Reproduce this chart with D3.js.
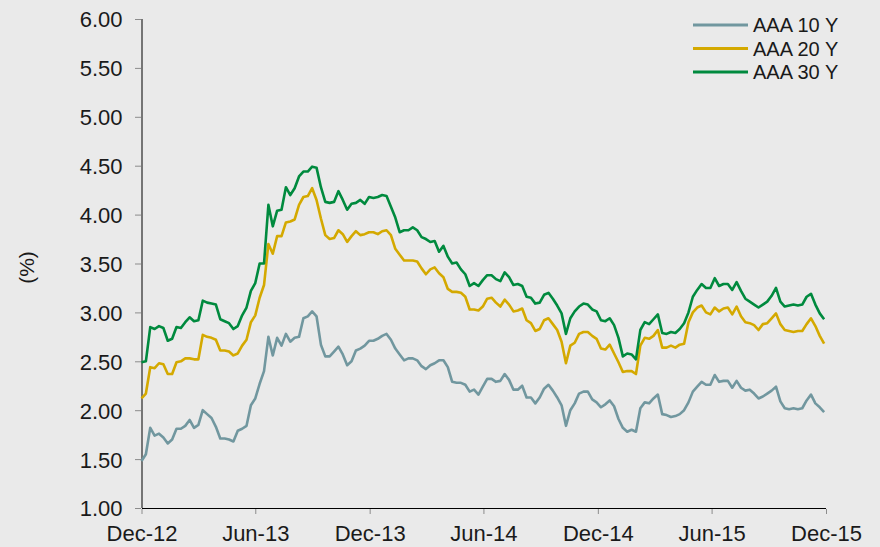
<!DOCTYPE html>
<html>
<head>
<meta charset="utf-8">
<script src="https://cdn.jsdelivr.net/npm/d3@7"></script>
<style>
  html, body { margin: 0; padding: 0; background: #eaeaea; }
  #chartArea { width: 880px; height: 547px; }
  text { font-family: "Liberation Sans", Arial, sans-serif; fill: #1a1a1a; }
</style>
</head>
<body>
<div id="chartArea"></div>
<script>
const width = 880;
const height = 547;

// weekly readings, first week starting 1 Dec 2012
const firstWeek = new Date(2012, 11, 1);

const aaa10 = [
  1.48,1.55,1.82,1.74,1.76,1.72,1.66,1.70,1.81,1.81,
  1.84,1.90,1.82,1.85,2.00,1.96,1.92,1.83,1.71,1.71,
  1.70,1.68,1.79,1.81,1.84,2.05,2.12,2.27,2.40,2.75,
  2.56,2.74,2.66,2.78,2.70,2.74,2.75,2.94,2.96,3.01,
  2.96,2.67,2.55,2.55,2.60,2.65,2.57,2.46,2.50,2.61,
  2.63,2.66,2.71,2.71,2.73,2.76,2.78,2.72,2.63,2.57,
  2.51,2.53,2.53,2.51,2.45,2.42,2.46,2.48,2.51,2.51,
  2.44,2.29,2.28,2.28,2.26,2.19,2.21,2.16,2.24,2.32,
  2.32,2.29,2.30,2.37,2.31,2.21,2.21,2.25,2.13,2.13,
  2.07,2.13,2.22,2.26,2.20,2.13,2.05,1.84,2.00,2.07,
  2.17,2.19,2.19,2.11,2.08,2.03,2.06,2.10,2.04,1.91,
  1.82,1.78,1.80,1.78,2.02,2.08,2.07,2.12,2.16,1.96,
  1.95,1.93,1.94,1.96,2.00,2.08,2.19,2.24,2.29,2.26,
  2.26,2.36,2.29,2.30,2.30,2.23,2.30,2.23,2.20,2.21,
  2.17,2.12,2.14,2.17,2.20,2.24,2.09,2.02,2.01,2.02,
  2.01,2.02,2.10,2.16,2.07,2.03,1.98
];

const aaa20 = [
  2.12,2.17,2.44,2.43,2.48,2.47,2.37,2.37,2.49,2.50,
  2.53,2.53,2.52,2.52,2.77,2.75,2.74,2.72,2.61,2.61,
  2.60,2.56,2.58,2.66,2.72,2.90,2.97,3.15,3.28,3.70,
  3.60,3.78,3.78,3.92,3.93,3.95,4.10,4.18,4.19,4.27,
  4.15,3.96,3.79,3.75,3.76,3.84,3.80,3.72,3.78,3.83,
  3.79,3.80,3.82,3.82,3.80,3.83,3.84,3.79,3.65,3.59,
  3.53,3.53,3.53,3.52,3.45,3.39,3.44,3.46,3.40,3.36,
  3.24,3.21,3.21,3.20,3.16,3.03,3.03,3.02,3.06,3.14,
  3.15,3.10,3.06,3.13,3.08,3.01,3.02,3.04,2.92,2.89,
  2.81,2.83,2.92,2.94,2.88,2.82,2.70,2.48,2.66,2.69,
  2.78,2.80,2.80,2.76,2.73,2.63,2.62,2.67,2.58,2.49,
  2.39,2.40,2.40,2.37,2.66,2.74,2.73,2.76,2.82,2.64,
  2.64,2.66,2.64,2.67,2.68,2.90,3.00,3.05,3.07,3.00,
  2.98,3.05,3.01,3.04,3.05,2.98,3.06,2.96,2.90,2.89,
  2.87,2.82,2.88,2.89,2.94,2.99,2.88,2.82,2.81,2.80,
  2.81,2.81,2.88,2.94,2.86,2.76,2.68
];

const aaa30 = [
  2.49,2.50,2.85,2.83,2.86,2.84,2.71,2.73,2.85,2.84,
  2.90,2.95,2.91,2.92,3.12,3.10,3.09,3.08,2.93,2.91,
  2.89,2.83,2.86,2.97,3.05,3.22,3.30,3.50,3.50,4.10,
  3.88,4.04,4.05,4.28,4.20,4.27,4.39,4.44,4.44,4.49,
  4.48,4.28,4.13,4.12,4.13,4.24,4.15,4.05,4.11,4.12,
  4.15,4.11,4.18,4.17,4.18,4.20,4.19,4.08,3.97,3.82,
  3.84,3.84,3.87,3.84,3.77,3.75,3.72,3.73,3.62,3.68,
  3.57,3.50,3.51,3.44,3.39,3.27,3.30,3.27,3.33,3.38,
  3.38,3.34,3.32,3.41,3.36,3.28,3.29,3.27,3.16,3.15,
  3.09,3.10,3.18,3.20,3.14,3.07,2.99,2.78,2.94,3.01,
  3.06,3.09,3.08,3.03,3.01,2.92,2.91,2.94,2.87,2.74,
  2.55,2.58,2.57,2.52,2.82,2.90,2.88,2.93,2.98,2.79,
  2.78,2.80,2.79,2.83,2.89,3.00,3.16,3.23,3.29,3.25,
  3.25,3.35,3.27,3.29,3.29,3.23,3.31,3.22,3.14,3.11,
  3.08,3.05,3.08,3.11,3.17,3.25,3.11,3.06,3.07,3.08,
  3.07,3.08,3.16,3.19,3.08,2.99,2.93
];

const seriesNames = ["AAA 10 Y", "AAA 20 Y", "AAA 30 Y"];
const seriesColors = ["#71979f", "#d4a900", "#008a3e"];
const tickDates = ["2012-12-01", "2013-06-01", "2013-12-01", "2014-06-01",
                   "2014-12-01", "2015-06-01", "2015-12-01"];
const yTicks = [1, 1.5, 2, 2.5, 3, 3.5, 4, 4.5, 5, 5.5, 6];

const margin = { top: 19, right: 54, bottom: 39, left: 141.5 };

const svg = d3.select("#chartArea")
    .append("svg")
    .attr("width", width)
    .attr("height", height);

svg.append("rect")
    .attr("width", width)
    .attr("height", height)
    .attr("fill", "#eaeaea");

const parseDay = d3.timeParse("%Y-%m-%d");
const weeks = aaa10.map((d, i) => d3.timeDay.offset(firstWeek, 7 * i));

const x = d3.scaleTime()
    .domain([parseDay(tickDates[0]), parseDay(tickDates[tickDates.length - 1])])
    .range([margin.left, width - margin.right]);

const y = d3.scaleLinear()
    .domain([1, 6])
    .range([height - margin.bottom, margin.top]);

// y axis
const yAxis = svg.append("g")
    .attr("transform", `translate(${margin.left},0)`)
    .call(d3.axisLeft(y).tickValues(yTicks).tickFormat(d3.format(".2f")).tickSize(6).tickPadding(13));
yAxis.select(".domain").attr("stroke", "#000").attr("d", `M0.5,${y(6)}V${y(1)}`);
yAxis.selectAll(".tick line").attr("stroke", "#8c8c8c").attr("x1", -0.5).attr("x2", -6.5);
yAxis.selectAll(".tick text").style("font-size", "22px").attr("fill", "#1a1a1a").attr("dy", "0.36em");

// x axis
const xAxis = svg.append("g")
    .attr("transform", `translate(0,${height - margin.bottom})`)
    .call(d3.axisBottom(x)
        .tickValues(tickDates.map(parseDay))
        .tickFormat(d3.timeFormat("%b-%y"))
        .tickSize(6)
        .tickPadding(11));
xAxis.select(".domain").attr("stroke", "#000")
    .attr("d", `M${margin.left + 0.5},0.5H${width - margin.right}`);
xAxis.selectAll(".tick line").attr("stroke", "#8c8c8c").attr("y1", 1);
xAxis.selectAll(".tick text").style("font-size", "22px").attr("fill", "#1a1a1a");

// y label
svg.append("text")
    .attr("transform", `translate(34,${(y(6) + y(1)) / 2 + 4}) rotate(-90)`)
    .attr("text-anchor", "middle")
    .style("font-size", "21px")
    .text("(%)");

// lines
const line = d3.line()
    .x((d, i) => x(weeks[i]))
    .y(d => y(d));

const allSeries = [aaa10, aaa20, aaa30];

svg.append("g")
    .selectAll("path")
    .data(allSeries)
    .enter().append("path")
    .attr("d", d => line(d))
    .attr("fill", "none")
    .attr("stroke", (d, i) => seriesColors[i])
    .attr("stroke-width", 2.6)
    .attr("stroke-linejoin", "round");

// legend
const legend = svg.append("g")
    .attr("transform", "translate(693,25)");

const legendItem = legend.selectAll("g")
    .data(seriesNames)
    .enter().append("g")
    .attr("transform", (d, i) => `translate(0,${i * 23.5})`);

legendItem.append("line")
    .attr("x1", 0)
    .attr("x2", 55)
    .attr("stroke", (d, i) => seriesColors[i])
    .attr("stroke-width", 3);

legendItem.append("text")
    .attr("x", 60)
    .attr("dy", "0.36em")
    .style("font-size", "20px")
    .text(d => d);
</script>
</body>
</html>
